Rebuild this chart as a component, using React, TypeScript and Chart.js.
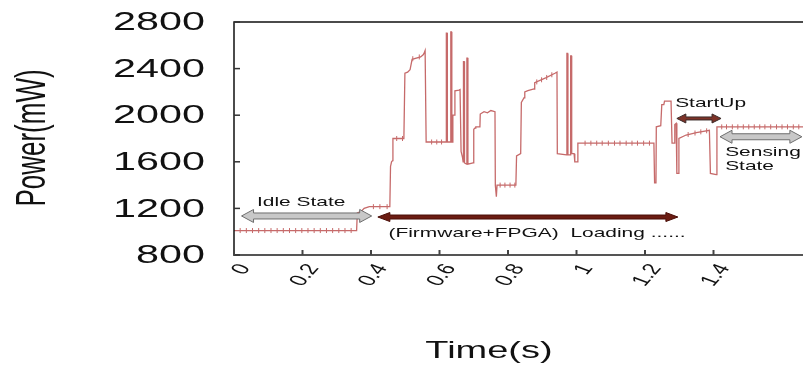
import React, { useEffect, useRef } from 'react';
import { Chart, registerables } from 'chart.js';

Chart.register(...registerables);

// Power trace: time (s) and power (mW)
const T = [
  0, 0.358, 0.36, 0.372, 0.38, 0.395, 0.455, 0.457, 0.46, 0.463, 0.464, 0.496,
  0.499, 0.507, 0.514, 0.52, 0.545, 0.553, 0.556, 0.558, 0.56,
  0.561, 0.619, 0.62, 0.622, 0.623, 0.632, 0.633, 0.635, 0.636, 0.638,
  0.639, 0.643, 0.645, 0.657, 0.66,
  0.663, 0.667, 0.669, 0.67, 0.672, 0.673, 0.679, 0.68, 0.682, 0.683, 0.698,
  0.7, 0.704, 0.706, 0.718,
  0.719, 0.73, 0.74, 0.75, 0.762,
  0.763, 0.766, 0.768, 0.823,
  0.825, 0.837, 0.839, 0.847, 0.849, 0.858, 0.876, 0.878, 0.91, 0.937, 0.943,
  0.944, 0.971, 0.972, 0.974, 0.975, 0.982, 0.983, 0.985, 0.986, 0.993, 0.995, 1.002, 1.004,
  1.226, 1.228, 1.232, 1.233, 1.246, 1.249, 1.255, 1.257, 1.276,
  1.279, 1.285, 1.287, 1.291, 1.293, 1.297, 1.299, 1.32, 1.35, 1.388,
  1.391, 1.408, 1.41, 1.7,
];
const P = [
  1010, 1010, 1160, 1175, 1200, 1215, 1215, 1560, 1600, 1610, 1800, 1800,
  2360, 2370, 2390, 2480, 2500, 2520, 2540, 2555, 2555,
  1770, 1770, 2705, 2705, 1770, 1770, 2715, 2715, 1770, 1770,
  2000, 2000, 2210, 2215, 2220,
  1690, 1640, 1600, 2460, 2460, 1590, 1580, 2490, 2490, 1580, 1590,
  1880, 1890, 1900, 1900,
  2010, 2030, 2020, 2040, 2030,
  1400, 1300, 1400, 1400,
  1650, 1670, 2110, 2150, 2200, 2210, 2225, 2280, 2320, 2360, 2370,
  1670, 1660, 2530, 2530, 1660, 1660, 2510, 2510, 1670, 1670, 1600, 1600, 1760,
  1760, 1420, 1420, 1900, 1910, 2090, 2090, 2120, 2120,
  1760, 1760, 1920, 1930, 1500, 1500, 1800, 1830, 1850, 1870,
  1500, 1490, 1900, 1900,
];

// "+" markers along the trace
const MT = [
  0.018, 0.036, 0.054, 0.072, 0.09, 0.108, 0.126, 0.144, 0.162, 0.18, 0.198, 0.216, 0.234, 0.252, 0.27, 0.288, 0.306, 0.324, 0.342,
  0.407, 0.426, 0.447,
  0.475, 0.492,
  0.522, 0.541,
  0.577, 0.592, 0.606,
  0.777, 0.791, 0.806, 0.82,
  0.884, 0.898, 0.913, 0.928,
  1.025, 1.042, 1.059, 1.075, 1.093, 1.111, 1.127, 1.145, 1.162, 1.178, 1.196, 1.213,
  1.326, 1.346, 1.363, 1.38,
  1.424, 1.438, 1.455, 1.471, 1.487, 1.503, 1.519, 1.535, 1.55, 1.567, 1.584, 1.6, 1.616, 1.633, 1.649,
];
const MP = [
  1010, 1010, 1010, 1010, 1010, 1010, 1010, 1010, 1010, 1010, 1010, 1010, 1010, 1010, 1010, 1010, 1010, 1010, 1010,
  1215, 1215, 1215,
  1800, 1800,
  2485, 2500,
  1770, 1770, 1770,
  1400, 1400, 1400, 1400,
  2286, 2304, 2324, 2347,
  1760, 1760, 1760, 1760, 1760, 1760, 1760, 1760, 1760, 1760, 1760, 1760,
  1834, 1847, 1857, 1866,
  1900, 1900, 1900, 1900, 1900, 1900, 1900, 1900, 1900, 1900, 1900, 1900, 1900, 1900, 1900,
];

const X_TICKS = [0, 0.2, 0.4, 0.6, 0.8, 1, 1.2, 1.4];
const X_LABELS = ['0', '0.2', '0.4', '0.6', '0.8', '1', '1.2', '1.4'];
const Y_TICKS = [800, 1200, 1600, 2000, 2400, 2800];
const Y_LABELS = ['800', '1200', '1600', '2000', '2400', '2800'];

const FONT = '"Liberation Sans", Arial, Helvetica, sans-serif';
const LINE_COLOR = '#c66a6a';
const SX = 1.55;

type TextOpts = {
  size: number;
  align?: CanvasTextAlign;
  baseline?: CanvasTextBaseline;
  rotate?: number;
  sx?: number;
  color?: string;
};

function drawText(ctx: CanvasRenderingContext2D, text: string, x: number, y: number, o: TextOpts) {
  ctx.save();
  ctx.translate(x, y);
  ctx.scale(o.sx ?? SX, 1);
  if (o.rotate) ctx.rotate(o.rotate);
  ctx.font = `${o.size}px ${FONT}`;
  ctx.textAlign = o.align ?? 'left';
  ctx.textBaseline = o.baseline ?? 'alphabetic';
  ctx.fillStyle = o.color ?? '#111';
  ctx.fillText(text, 0, 0);
  ctx.restore();
}

function doubleArrow(
  ctx: CanvasRenderingContext2D, x1: number, x2: number, y: number,
  shaft: number, head: number, len: number, fill: string, stroke: string,
) {
  ctx.save();
  ctx.beginPath();
  ctx.moveTo(x1, y);
  ctx.lineTo(x1 + len, y - head);
  ctx.lineTo(x1 + len, y - shaft);
  ctx.lineTo(x2 - len, y - shaft);
  ctx.lineTo(x2 - len, y - head);
  ctx.lineTo(x2, y);
  ctx.lineTo(x2 - len, y + head);
  ctx.lineTo(x2 - len, y + shaft);
  ctx.lineTo(x1 + len, y + shaft);
  ctx.lineTo(x1 + len, y + head);
  ctx.closePath();
  ctx.fillStyle = fill;
  ctx.fill();
  ctx.strokeStyle = stroke;
  ctx.lineWidth = 1;
  ctx.stroke();
  ctx.restore();
}

const decorPlugin = {
  id: 'decor',
  afterDraw(chart: any) {
    const ctx: CanvasRenderingContext2D = chart.ctx;
    const xs = chart.scales.x;
    const ys = chart.scales.y;
    const a = chart.chartArea;

    // frame
    ctx.save();
    ctx.strokeStyle = '#111';
    ctx.lineWidth = 1.5;
    ctx.beginPath();
    ctx.moveTo(a.left, a.bottom);
    ctx.lineTo(a.left, a.top);
    ctx.lineTo(chart.width, a.top);
    ctx.stroke();
    ctx.strokeStyle = '#555';
    ctx.lineWidth = 2;
    ctx.beginPath();
    ctx.moveTo(a.left - 1, a.bottom);
    ctx.lineTo(chart.width, a.bottom);
    ctx.stroke();

    // inward tick marks
    ctx.strokeStyle = '#333';
    ctx.lineWidth = 1.5;
    Y_TICKS.forEach((v) => {
      const y = ys.getPixelForValue(v);
      ctx.beginPath();
      ctx.moveTo(a.left, y);
      ctx.lineTo(a.left + 6, y);
      ctx.stroke();
    });
    ctx.strokeStyle = '#444';
    ctx.lineWidth = 2;
    X_TICKS.forEach((v) => {
      const x = xs.getPixelForValue(v);
      ctx.beginPath();
      ctx.moveTo(x, a.bottom);
      ctx.lineTo(x, a.bottom - 5);
      ctx.stroke();
    });
    ctx.restore();

    // y tick labels
    Y_TICKS.forEach((v, i) => {
      drawText(ctx, Y_LABELS[i], 205, ys.getPixelForValue(v) + 1, {
        size: 26, align: 'right', baseline: 'middle', sx: 1.59,
      });
    });
    // x tick labels (rotated)
    X_TICKS.forEach((v, i) => {
      drawText(ctx, X_LABELS[i], xs.getPixelForValue(v) + 11, a.bottom + 10.5, {
        size: 16, align: 'right', baseline: 'middle', rotate: -Math.PI / 3,
      });
    });
    // axis titles
    drawText(ctx, 'Power(mW)', 34, 138, {
      size: 26, align: 'center', baseline: 'middle', rotate: -Math.PI / 2, sx: 1.6,
    });
    drawText(ctx, 'Time(s)', 489, 358, { size: 24.5, align: 'center' });

    // annotations
    const px = (t: number) => xs.getPixelForValue(t);
    const py = (p: number) => ys.getPixelForValue(p);
    doubleArrow(ctx, px(0.022), px(0.402), py(1135), 3, 6.5, 12, '#c8c8c8', '#6e6e6e');
    drawText(ctx, 'Idle State', px(0.196), py(1220), { size: 13.5, align: 'center' });

    doubleArrow(ctx, px(0.42), px(1.296), py(1126), 2, 4.5, 12, '#6b1c12', '#4a0e08');
    drawText(ctx, '(Firmware+FPGA)  Loading ......', px(0.451), py(955), { size: 13.5 });

    doubleArrow(ctx, px(1.293), px(1.422), py(1972), 1.5, 4.5, 9, '#7d3328', '#3a2a28');
    drawText(ctx, 'StartUp', px(1.288), py(2070), { size: 13.5 });

    doubleArrow(ctx, px(1.419), px(1.658), py(1815), 3, 6.5, 12, '#c8c8c8', '#6e6e6e');
    drawText(ctx, 'Sensing', px(1.434), py(1650), { size: 13.5 });
    drawText(ctx, 'State', px(1.434), py(1530), { size: 13.5 });
  },
};

export default function App() {
  const ref = useRef<HTMLCanvasElement | null>(null);

  useEffect(() => {
    const canvas = ref.current;
    if (!canvas) return;
    const chart = new Chart(canvas, {
      type: 'line',
      data: {
        datasets: [
          {
            data: T.map((t, i) => ({ x: t, y: P[i] })),
            borderColor: LINE_COLOR,
            borderWidth: 1.3,
            pointRadius: 0,
            tension: 0,
          },
          {
            data: MT.map((t, i) => ({ x: t, y: MP[i] })),
            showLine: false,
            pointStyle: 'line',
            rotation: 90,
            pointRadius: 2.5,
            borderColor: LINE_COLOR,
            backgroundColor: LINE_COLOR,
            borderWidth: 1,
          },
        ],
      },
      options: {
        animation: false,
        responsive: false,
        devicePixelRatio: 1,
        events: [],
        layout: { padding: { left: 234, top: 22, right: 23.75, bottom: 112 } },
        plugins: { legend: { display: false }, tooltip: { enabled: false } },
        scales: {
          x: { type: 'linear', min: 0, max: 1.7, display: false },
          y: { min: 800, max: 2800, display: false },
        },
      },
      plugins: [decorPlugin],
    } as any);
    return () => chart.destroy();
  }, []);

  return (
    <div style={{ position: 'fixed', left: 0, top: 0, width: 803, height: 367, overflow: 'hidden', background: '#fff' }}>
      <canvas ref={ref} width={840} height={367} style={{ width: 840, height: 367, display: 'block' }} />
    </div>
  );
}
